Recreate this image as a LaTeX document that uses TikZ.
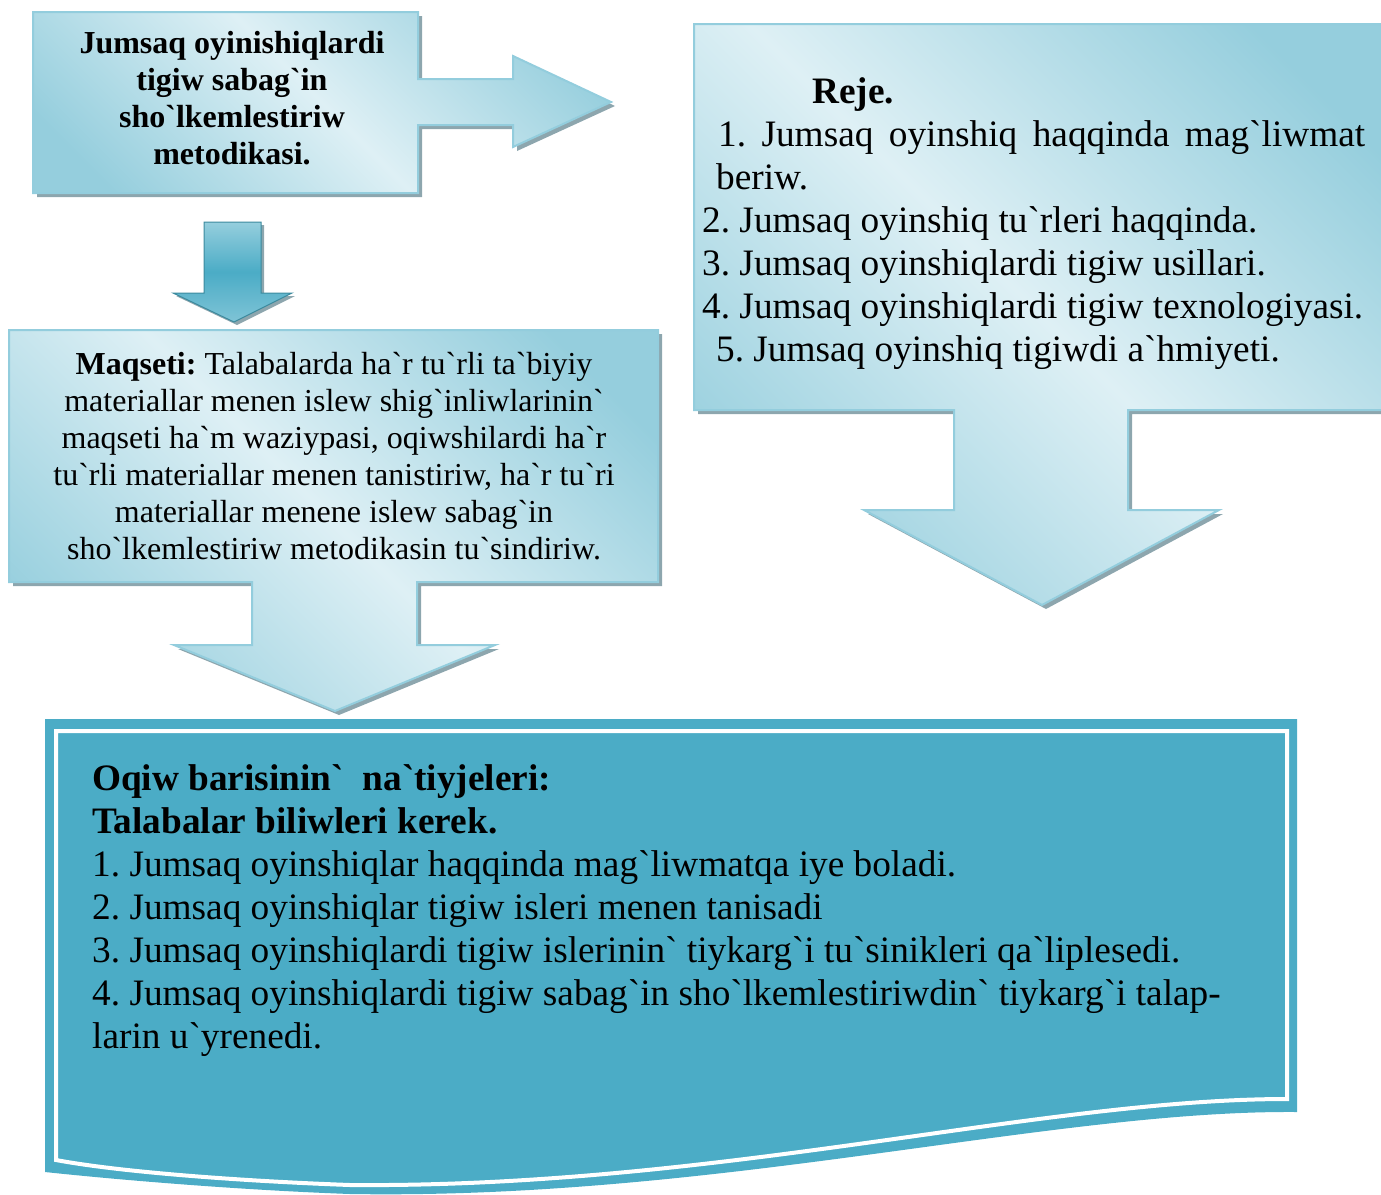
\documentclass[tikz,border=0pt]{standalone}
\usepackage{fontspec}
\newfontfamily\tnr{Liberation Serif}
\frenchspacing
\definecolor{lightb}{HTML}{DEF0F5}
\definecolor{darkb}{HTML}{95CEDD}
\definecolor{bord}{HTML}{93CDDD}
\definecolor{tealx}{HTML}{4BACC6}
\definecolor{tealdk}{HTML}{31859C}
\definecolor{shad}{HTML}{8DA6AE}
\pgfdeclarehorizontalshading{bandshade}{100bp}{color(0bp)=(darkb); color(22bp)=(darkb); color(50bp)=(lightb); color(78bp)=(darkb); color(100bp)=(darkb)}
\tikzset{
  callout/.style={shade, shading=bandshade, shading angle=45, draw=bord, line width=2pt, line join=miter},
  shadowfill/.style={fill=shad, xshift=4pt, yshift=-4pt},
  txt/.style={inner sep=0pt, anchor=base, font=\tnr},
}
\begin{document}
\begin{tikzpicture}[x=1pt,y=-1pt]
\useasboundingbox (0,0) rectangle (1381,1194);

% ---------- top-left box with right arrow ----------
\fill[shadowfill] (33,12) -- (418,12) -- (418,79) -- (513,79) -- (513,56) -- (611,102) -- (513,147) -- (513,125) -- (418,125) -- (418,193) -- (33,193) -- cycle;
\path[callout] (33,12) -- (418,12) -- (418,79) -- (513,79) -- (513,56) -- (611,102) -- (513,147) -- (513,125) -- (418,125) -- (418,193) -- (33,193) -- cycle;
\node[txt] (title) at (232,53) {\parbox[t]{380pt}{\centering\tnr\frenchspacing\fontsize{32}{37}\selectfont\bfseries
Jumsaq oyinishiqlardi\\ tigiw sabag`in\\ sho`lkemlestiriw\\ metodikasi.}};

% ---------- small dark down arrow ----------
\fill[shad, xshift=3pt, yshift=-3pt] (204,222) -- (261,222) -- (261,293) -- (292,293) -- (234,322) -- (173,293) -- (204,293) -- cycle;
\shade[top color=darkb, bottom color=darkb!70!tealx, middle color=tealx, draw=tealx!80!black, line width=1pt]
  (204,222) -- (261,222) -- (261,293) -- (292,293) -- (234,322) -- (173,293) -- (204,293) -- cycle;

% ---------- Maqseti box with down arrow ----------
\fill[shadowfill] (9,330) -- (658,330) -- (658,582) -- (417,582) -- (417,645) -- (495,645) -- (335,711) -- (174,645) -- (252,645) -- (252,582) -- (9,582) -- cycle;
\path[callout] (9,330) -- (658,330) -- (658,582) -- (417,582) -- (417,645) -- (495,645) -- (335,711) -- (174,645) -- (252,645) -- (252,582) -- (9,582) -- cycle;
\node[txt] (aim) at (334,374) {\parbox[t]{640pt}{\centering\tnr\frenchspacing\fontsize{32}{37}\selectfont
\textbf{Maqseti:} Talabalarda ha`r tu`rli ta`biyiy\\ materiallar menen islew shig`inliwlarinin`\\ maqseti ha`m waziypasi, oqiwshilardi ha`r\\ tu`rli materiallar menen tanistiriw, ha`r tu`ri\\ materiallar menene islew sabag`in\\ sho`lkemlestiriw metodikasin tu`sindiriw.}};

% ---------- Reje box with down arrow ----------
\fill[shadowfill] (694,24) -- (1386,24) -- (1386,410) -- (1128,410) -- (1128,510) -- (1219,510) -- (1042,605) -- (864,510) -- (954,510) -- (954,410) -- (694,410) -- cycle;
\path[callout] (694,24) -- (1386,24) -- (1386,410) -- (1128,410) -- (1128,510) -- (1219,510) -- (1042,605) -- (864,510) -- (954,510) -- (954,410) -- (694,410) -- cycle;
\node[txt, anchor=base west] (plan) at (702,103) {\parbox[t]{680pt}{\raggedright\tnr\frenchspacing\fontsize{37.3}{43}\selectfont
\hspace*{110pt}\textbf{Reje.}\\
\hspace*{16pt}\hbox to 647pt{1.\hfill Jumsaq\hfill oyinshiq\hfill haqqinda\hfill mag`liwmat}\\
\hspace*{14pt}beriw.\\
2. Jumsaq oyinshiq tu`rleri haqqinda.\\
3. Jumsaq oyinshiqlardi tigiw usillari.\\
4. Jumsaq oyinshiqlardi tigiw texnologiyasi.\\
\hspace*{14pt}5. Jumsaq oyinshiq tigiwdi a`hmiyeti.}};

% ---------- bottom results box ----------
\fill[tealx] (45,719) -- (1297,719) -- (1297,1112) .. controls (1050,1110) and (720,1200) .. (350,1194) .. controls (240,1190) and (120,1180) .. (45,1172) -- cycle;
\draw[white, line width=4pt, line join=miter] (56,731) -- (1287,731) -- (1287,1099) .. controls (1040,1099) and (720,1188) .. (350,1185) .. controls (240,1181) and (120,1172) .. (56,1160) -- cycle;
\node[txt, anchor=base west] (results) at (92,790) {\parbox[t]{1200pt}{\raggedright\tnr\frenchspacing\fontsize{37.3}{43}\selectfont
\textbf{Oqiw barisinin`\ \ na`tiyjeleri:}\\
\textbf{Talabalar biliwleri kerek.}\\
1. Jumsaq oyinshiqlar haqqinda mag`liwmatqa iye boladi.\\
2. Jumsaq oyinshiqlar tigiw isleri menen tanisadi\\
3. Jumsaq oyinshiqlardi tigiw islerinin` tiykarg`i tu`sinikleri qa`liplesedi.\\
4. Jumsaq oyinshiqlardi tigiw sabag`in sho`lkemlestiriwdin` tiykarg`i talap-\\
larin u`yrenedi.}};
\end{tikzpicture}
\end{document}
